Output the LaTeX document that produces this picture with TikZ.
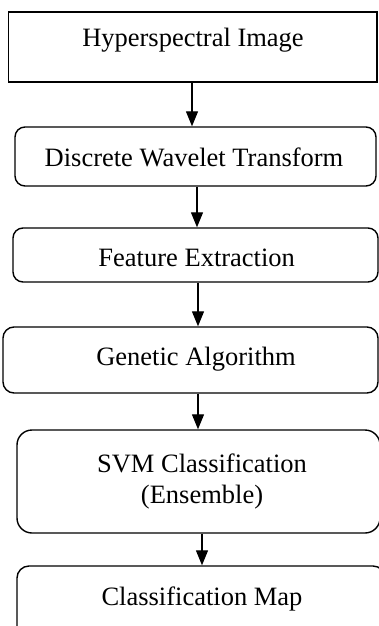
\documentclass[tikz,border=0pt]{standalone}
\usepackage{fontspec}
\setmainfont{Liberation Serif}
\usetikzlibrary{arrows.meta}
\begin{document}
\begin{tikzpicture}[x=1pt,y=-1pt,
  box/.style={draw=black,line width=1.4pt,minimum width=#1,inner sep=0pt},
  lbl/.style={anchor=base,inner sep=0pt,font=\fontsize{26.5}{31}\selectfont,align=center},
  arr/.style={line width=1.3pt,-{Triangle[length=15pt,width=12pt]}}]
\clip (0,0) rectangle (379,626);
\fill[white] (0,0) rectangle (379,626);
% boxes
\node[box=368.5pt,minimum height=70pt] (b1) at (192.75,47) {};
\node[box=361pt,minimum height=59pt,rounded corners=10pt] (b2) at (195.5,156.5) {};
\node[box=365pt,minimum height=54pt,rounded corners=10pt] (b3) at (195.5,255) {};
\node[box=375pt,minimum height=66pt,rounded corners=11pt] (b4) at (190.5,360) {};
\node[box=363pt,minimum height=103pt,rounded corners=15pt] (b5) at (198.5,481.5) {};
\node[box=368pt,minimum height=94pt,rounded corners=12pt] (b6) at (201,613) {};
% texts
\node[lbl] (t1) at (193,46.7) {Hyperspectral Image};
\node[lbl] (t2) at (194,166) {Discrete Wavelet Transform};
\node[lbl] (t3) at (196.7,266.7) {Feature Extraction};
\node[lbl] (t4) at (196,365) {Genetic Algorithm};
\node[lbl] (t5a) at (202,472) {SVM Classification};
\node[lbl] (t5b) at (202,503) {(Ensemble)};
\node[lbl] (t6) at (202,605) {Classification Map};
% arrows
\draw[arr] (b1.south -| 192,0) -- (b2.north -| 192,0);
\draw[arr] (b2.south -| 197,0) -- (b3.north -| 197,0);
\draw[arr] (b3.south -| 198,0) -- (b4.north -| 198,0);
\draw[arr] (b4.south -| 198,0) -- (b5.north -| 198,0);
\draw[arr] (b5.south -| 202,0) -- (b6.north -| 202,0);
\end{tikzpicture}
\end{document}
